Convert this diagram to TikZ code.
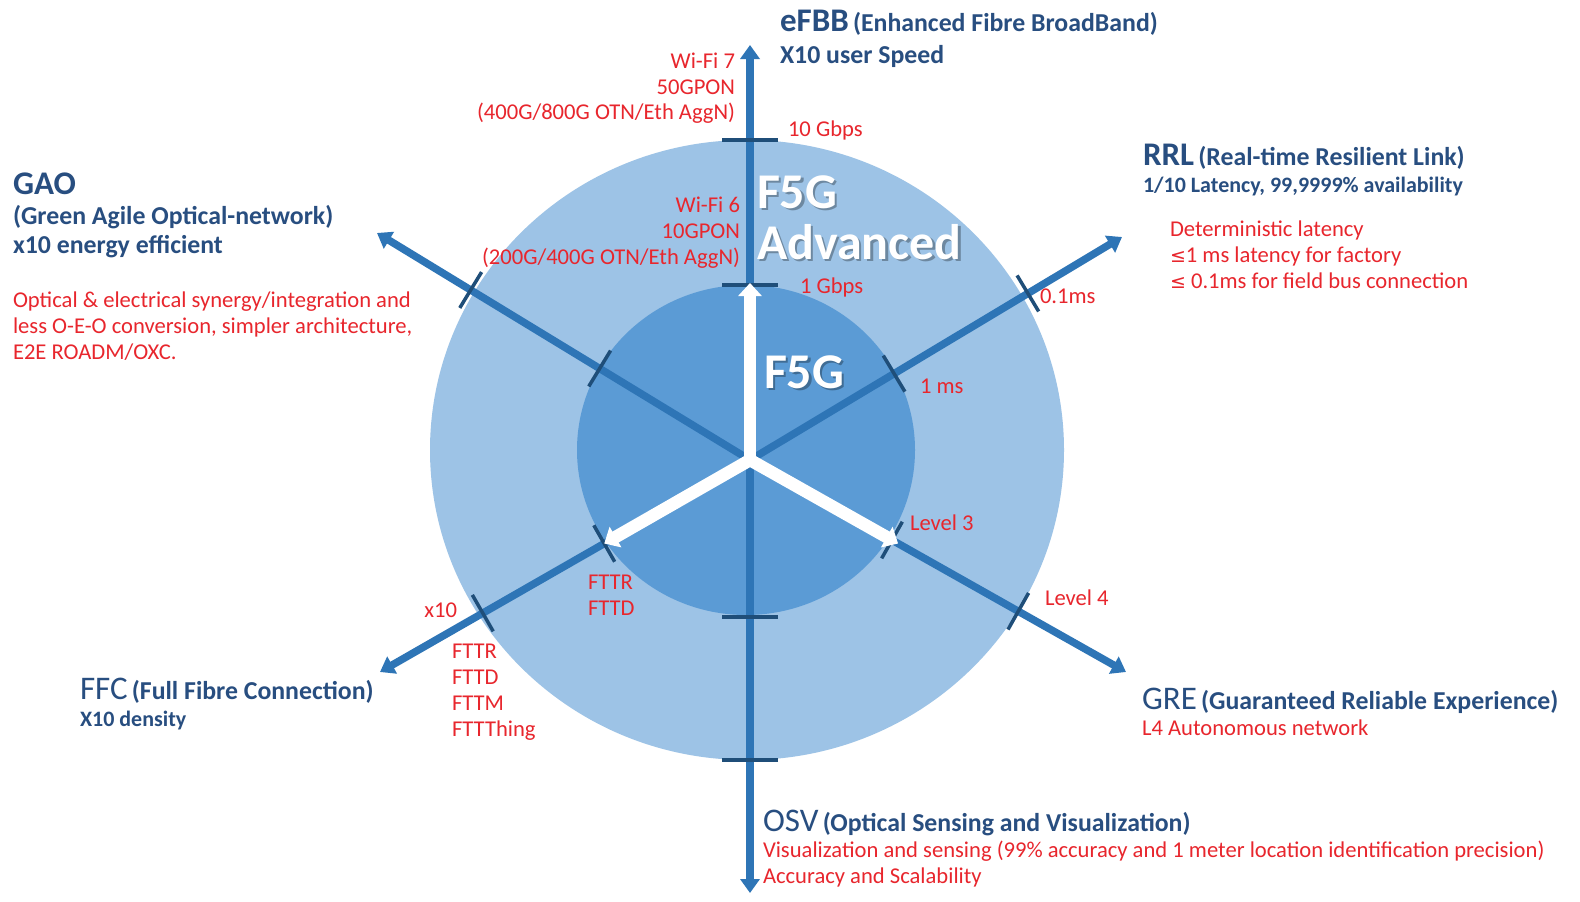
\documentclass[tikz,border=0pt]{standalone}
\usepackage{fontspec}
\setmainfont{Carlito}
\newfontfamily\dv{DejaVu Sans}
\usetikzlibrary{calc,arrows.meta}
\definecolor{outerc}{RGB}{157,195,230}
\definecolor{innerc}{RGB}{91,155,213}
\definecolor{axisc}{RGB}{46,117,182}
\definecolor{tickc}{RGB}{31,78,121}
\definecolor{titc}{RGB}{40,78,128}
\definecolor{redc}{RGB}{232,38,45}
\newcommand{\bigf}{\fontsize{33}{33}\selectfont}
\newcommand{\midf}{\fontsize{25.8}{27}\selectfont}
\newcommand{\smf}{\fontsize{22}{24}\selectfont}
\newcommand{\leqs}{{\dv\fontsize{19}{20}\selectfont ≤}}
\begin{document}
\begin{tikzpicture}[x=1pt,y=-1pt,
  axis/.style={draw=axisc, line width=7.5pt, -{Triangle[length=14pt,width=19pt]}},
  tickl/.style={draw=tickc, line width=3.5pt},
  warrow/.style={draw=white, line width=12.5pt, -{Triangle[length=13pt,width=23pt]}},
  txt/.style={inner sep=0pt, outer sep=0pt},
  tit/.style={txt, text=titc, font=\bfseries},
  tit2/.style={txt, text=titc},
  redt/.style={txt, text=redc, font=\fontsize{22.6}{25.8}\selectfont},
  bigw/.style={txt, font=\bfseries\fontsize{50}{52}\selectfont}
]
\useasboundingbox (0,0) rectangle (1580,902);
\fill[white] (0,0) rectangle (1580,902);

% circles
\fill[outerc] (747,450) ellipse [x radius=317, y radius=310];
\fill[innerc] (746,450) ellipse [x radius=169, y radius=165];

% axes
\coordinate (O) at (750,460);
\coordinate (tN) at (750,45);
\coordinate (tS) at (750,893);
\coordinate (tNE) at (1122,237);
\coordinate (tNW) at (377,233);
\coordinate (tSW) at (380,672);
\coordinate (tSE) at (1126,672);
\foreach \t in {tN,tS,tNE,tNW,tSW,tSE}{
  \draw[axis] (O) -- (\t);
}

% ticks
\foreach \t/\d/\h in {tN/320/28,tN/175/28,tS/157/28,tS/300/28,tNE/324/21,tNE/168/21,tNW/327/21,tNW/176/21,tSW/308/21,tSW/168/21,tSE/308/21,tSE/163/21}{
  \coordinate (k) at ($(O)!\d pt!(\t)$);
  \draw[tickl] ($(k)!\h pt!90:(\t)$) -- ($(k)!\h pt!-90:(\t)$);
}

% white arrows
\coordinate (wN) at ($(O)!177pt!(tN)$);
\coordinate (wSE) at ($(O)!170pt!(tSE)$);
\coordinate (wSW) at ($(O)!168pt!(tSW)$);
\draw[warrow] (O) -- (wN);
\draw[warrow] (O) -- (wSE);
\draw[warrow] (O) -- (wSW);
\fill[white] (O) circle (6.5);

% F5G labels with shadow
\node[bigw, anchor=base west, text=black, opacity=0.3] (s1) at (759.5,210.5) {F5G};
\node[bigw, anchor=base west, text=black, opacity=0.3] (s2) at (759.5,261.5) {Advanced};
\node[bigw, anchor=base west, text=black, opacity=0.3] (s3) at (766.5,390.5) {F5G};
\node[bigw, anchor=base west, text=white] (f5ga) at (757,208) {F5G};
\node[bigw, anchor=base west, text=white] (adv) at (757,259) {Advanced};
\node[bigw, anchor=base west, text=white] (f5g) at (764,388) {F5G};

% eFBB
\node[tit, anchor=base west] (efbb) at (780,31) {{\bigf eFBB}\hspace{2pt} {\midf (Enhanced Fibre BroadBand)}};
\node[tit, anchor=base west] (efbb2) at (780,63) {\midf X10 user Speed};
\node[redt, anchor=base east] (w7a) at (735,68) {Wi-Fi 7};
\node[redt, anchor=base east] (w7b) at (735,94) {50GPON};
\node[redt, anchor=base east] (w7c) at (735,119) {(400G/800G OTN/Eth AggN)};
\node[redt, anchor=base west] (g10) at (788,136) {10 Gbps};
\node[redt, anchor=base east] (w6a) at (740,212) {Wi-Fi 6};
\node[redt, anchor=base east] (w6b) at (740,238) {10GPON};
\node[redt, anchor=base east] (w6c) at (740,264) {(200G/400G OTN/Eth AggN)};
\node[redt, anchor=base west] (g1) at (800,293) {1 Gbps};

% RRL
\node[tit, anchor=base west] (rrl) at (1143,165) {{\bigf RRL}\hspace{2pt} {\midf (Real-time Resilient Link)}};
\node[tit, anchor=base west] (rrl2) at (1143,192) {\smf 1/10 Latency, 99,9999\% availability};
\node[redt, anchor=base west] (rr1) at (1170,236) {Deterministic latency};
\node[redt, anchor=base west] (rr2) at (1170,262) {\leqs1 ms latency for factory};
\node[redt, anchor=base west] (rr3) at (1170,288) {\leqs{} 0.1ms for field bus connection};
\node[redt, anchor=base west] (ms01) at (1040,303) {0.1ms};
\node[redt, anchor=base west] (ms1) at (920,393) {1 ms};

% GAO
\node[tit, anchor=base west] (gao) at (13,194) {\bigf GAO};
\node[tit, anchor=base west] (gao2) at (13,224) {\midf (Green Agile Optical-network)};
\node[tit, anchor=base west] (gao3) at (13,253) {\midf x10 energy efficient};
\node[redt, anchor=base west] (ga1) at (13,307) {Optical \& electrical synergy/integration and};
\node[redt, anchor=base west] (ga2) at (13,333) {less O-E-O conversion, simpler architecture,};
\node[redt, anchor=base west] (ga3) at (13,359) {E2E ROADM/OXC.};

% levels
\node[redt, anchor=base west] (l3) at (910,530) {Level 3};
\node[redt, anchor=base west] (l4) at (1045,605) {Level 4};

% FFC side
\node[redt, anchor=base west] (fi1) at (588,589) {FTTR};
\node[redt, anchor=base west] (fi2) at (588,615) {FTTD};
\node[redt, anchor=base east] (x10) at (457,617) {x10};
\node[redt, anchor=base west] (fo1) at (452,658) {FTTR};
\node[redt, anchor=base west] (fo2) at (452,684) {FTTD};
\node[redt, anchor=base west] (fo3) at (452,710) {FTTM};
\node[redt, anchor=base west] (fo4) at (452,736) {FTTThing};
\node[tit2, anchor=base west] (ffc) at (80,699) {{\bigf FFC}\hspace{2pt} {\bfseries\midf (Full Fibre Connection)}};
\node[tit, anchor=base west] (ffc2) at (80,726) {\smf X10 density};

% GRE
\node[tit2, anchor=base west] (gre) at (1142,709) {{\bigf GRE}\hspace{2pt} {\bfseries\midf (Guaranteed Reliable Experience)}};
\node[redt, anchor=base west] (gre2) at (1142,735) {L4 Autonomous network};

% OSV
\node[tit2, anchor=base west] (osv) at (763,831) {{\bigf OSV}\hspace{2pt} {\bfseries\midf (Optical Sensing and Visualization)}};
\node[redt, anchor=base west] (osv2) at (763,857) {Visualization and sensing (99\% accuracy and 1 meter location identification precision)};
\node[redt, anchor=base west] (osv3) at (763,883) {Accuracy and Scalability};
\end{tikzpicture}
\end{document}
